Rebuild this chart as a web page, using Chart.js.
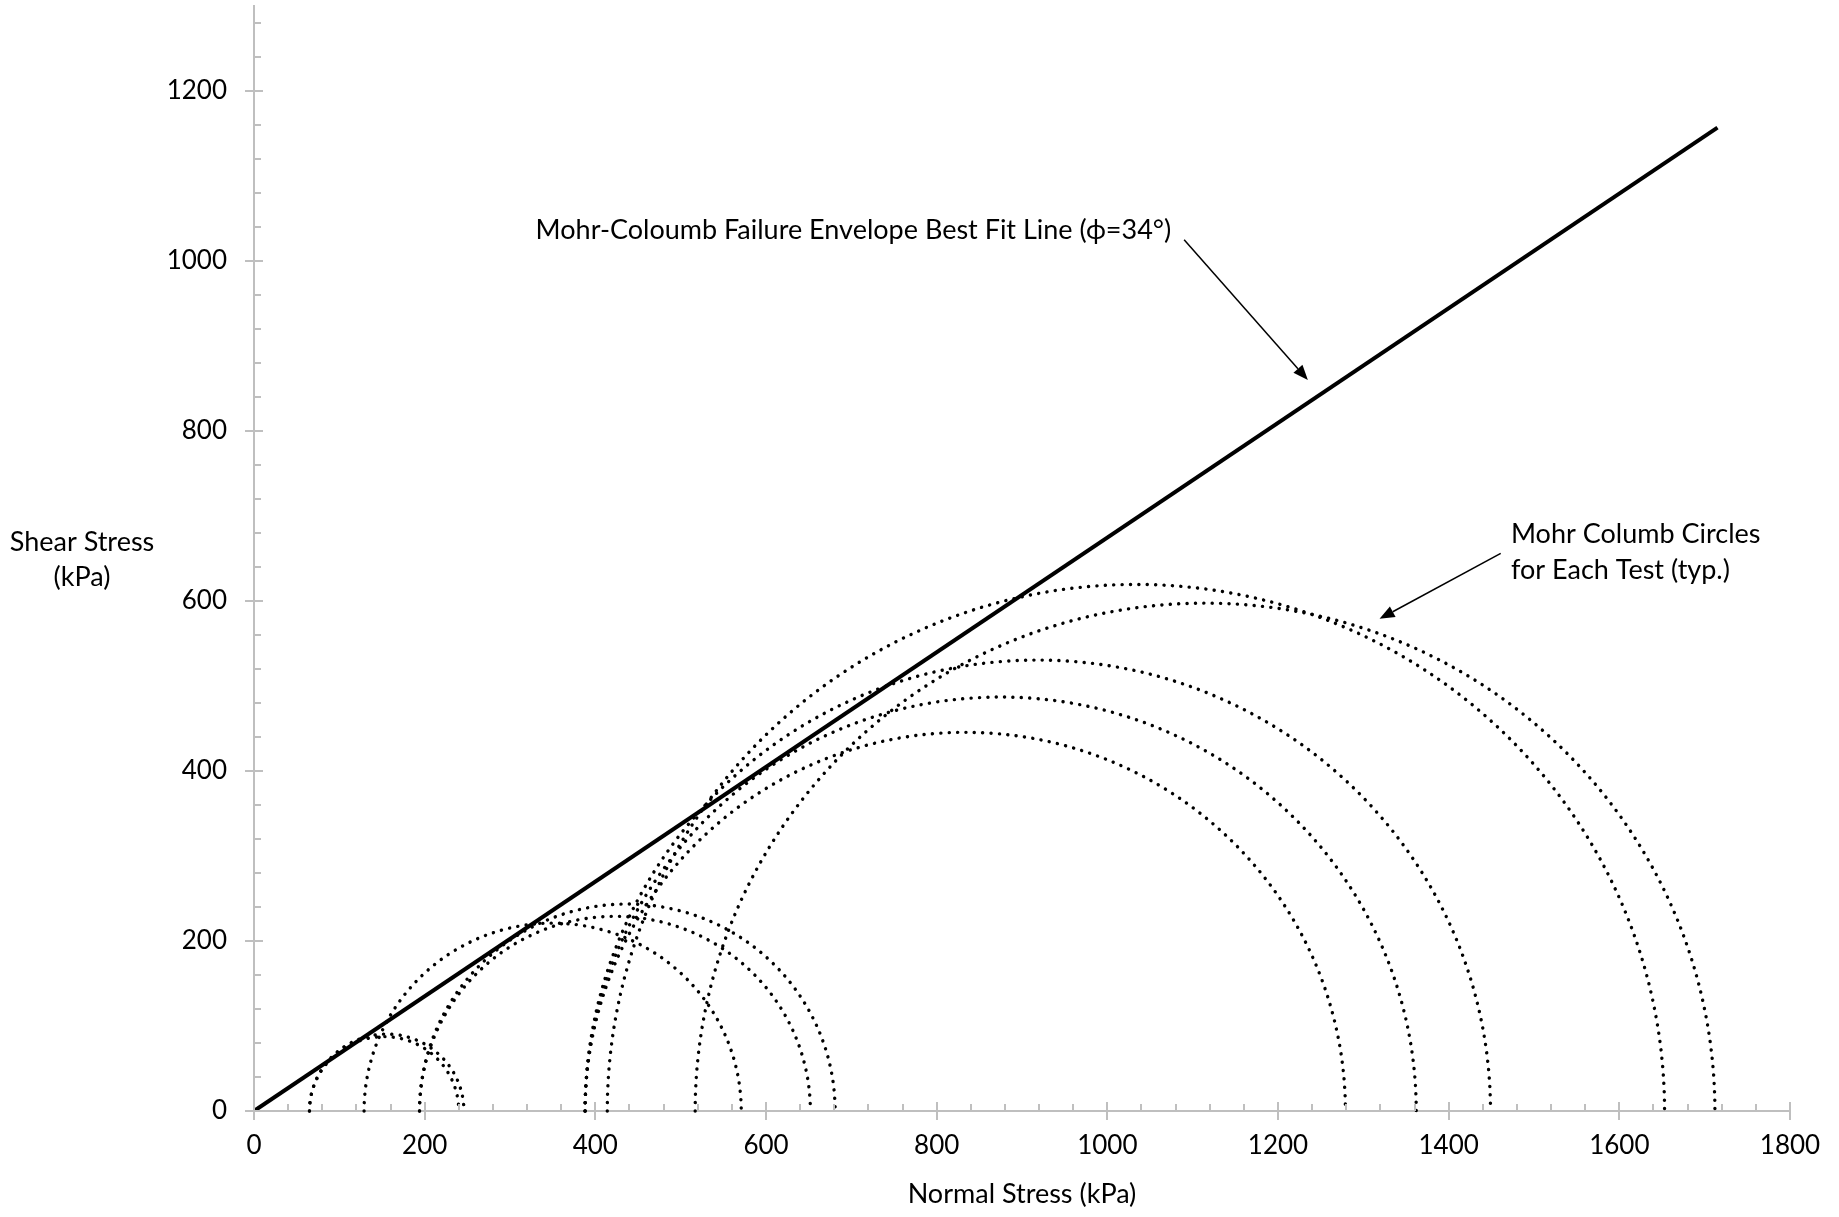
<!DOCTYPE html>
<html>
<head>
<meta charset="utf-8">
<title>Mohr-Coulomb circles</title>
<script src="https://cdn.jsdelivr.net/npm/chart.js@4.4.1/dist/chart.umd.min.js"></script>
<style>
  html, body { margin: 0; padding: 0; background: #fff; }
  canvas { display: block; }
</style>
</head>
<body>
<canvas id="mohrChart" width="1839" height="1217"></canvas>
<script>
// stresses at failure for each test, kPa
const sigma3 = [65, 65, 129, 194, 194, 388, 388, 388, 414, 517];
const sigma1 = [240, 246, 571, 652, 681, 1279, 1362, 1449, 1653, 1712];

// best fit failure envelope (phi = 34 deg)
const envelopeX = [0, 1715];
const envelopeY = [0, 1157];

const xTicks = [0, 200, 400, 600, 800, 1000, 1200, 1400, 1600, 1800];
const yTicks = [0, 200, 400, 600, 800, 1000, 1200];

const axisColor = '#bfbfbf';
const textColor = '#000';

Chart.defaults.font.family = 'Lato';

// half circles, drawn through the chart scales
const mohrCircles = {
  id: 'mohrCircles',
  beforeDatasetsDraw(chart) {
    const { ctx, scales: { x, y } } = chart;
    ctx.save();
    ctx.strokeStyle = '#000';
    ctx.lineWidth = 3.4;
    ctx.lineCap = 'round';
    ctx.setLineDash([0.1, 8.3]);
    sigma3.forEach((s3, i) => {
      const c = (sigma1[i] + s3) / 2;
      const r = (sigma1[i] - s3) / 2;
      const cx = x.getPixelForValue(c);
      const cy = y.getPixelForValue(0);
      const rx = x.getPixelForValue(c + r) - cx;
      const ry = cy - y.getPixelForValue(r);
      ctx.beginPath();
      ctx.ellipse(cx, cy, rx, ry, 0, Math.PI, 2 * Math.PI);
      ctx.stroke();
    });
    ctx.restore();
  }
};

// excel style ticks: major ones cross the axis, minor ones inside
const axisTicks = {
  id: 'axisTicks',
  afterDraw(chart) {
    const { ctx, chartArea: a, scales: { x, y } } = chart;
    ctx.save();
    ctx.strokeStyle = axisColor;
    ctx.lineWidth = 2;
    ctx.beginPath();
    for (let v = 0; v <= x.max; v += 40) {
      const px = Math.round(x.getPixelForValue(v));
      const major = v % 200 === 0;
      ctx.moveTo(px, a.bottom + (major ? 9 : 0));
      ctx.lineTo(px, a.bottom - (major ? 9 : 7));
    }
    for (let v = 0; v <= y.max; v += 40) {
      const py = Math.round(y.getPixelForValue(v));
      const major = v % 200 === 0;
      ctx.moveTo(a.left - (major ? 9 : 0), py);
      ctx.lineTo(a.left + (major ? 9 : 7), py);
    }
    ctx.stroke();
    ctx.restore();
  }
};

function arrow(ctx, x1, y1, x2, y2) {
  const ang = Math.atan2(y2 - y1, x2 - x1);
  const len = 15, half = 6;
  ctx.beginPath();
  ctx.moveTo(x1, y1);
  ctx.lineTo(x2 - Math.cos(ang) * len, y2 - Math.sin(ang) * len);
  ctx.stroke();
  ctx.beginPath();
  ctx.moveTo(x2, y2);
  ctx.lineTo(x2 - Math.cos(ang) * len - Math.sin(ang) * half, y2 - Math.sin(ang) * len + Math.cos(ang) * half);
  ctx.lineTo(x2 - Math.cos(ang) * len + Math.sin(ang) * half, y2 - Math.sin(ang) * len - Math.cos(ang) * half);
  ctx.closePath();
  ctx.fill();
}

// labels, arrows and the horizontal y axis title
const notes = {
  id: 'notes',
  afterDraw(chart) {
    const { ctx, chartArea: a, scales: { x, y } } = chart;
    ctx.save();
    ctx.fillStyle = '#000';
    ctx.strokeStyle = '#000';
    ctx.lineWidth = 1.5;
    ctx.font = '27px Lato';
    ctx.textBaseline = 'middle';
    ctx.textAlign = 'left';
    ctx.fillText('Mohr-Coloumb Failure Envelope Best Fit Line (\u03d5=34\u00b0)', x.getPixelForValue(330), y.getPixelForValue(1036));
    ctx.fillText('Mohr Columb Circles', x.getPixelForValue(1473), y.getPixelForValue(679));
    ctx.fillText('for Each Test (typ.)', x.getPixelForValue(1473), y.getPixelForValue(636));
    arrow(ctx, x.getPixelForValue(1090), y.getPixelForValue(1025), x.getPixelForValue(1235), y.getPixelForValue(860));
    arrow(ctx, x.getPixelForValue(1461), y.getPixelForValue(656), x.getPixelForValue(1319), y.getPixelForValue(579));

    const mid = (a.top + a.bottom) / 2;
    ctx.fillStyle = textColor;
    ctx.textAlign = 'center';
    ctx.fillText('Shear Stress', 82, mid - 16);
    ctx.fillText('(kPa)', 82, mid + 19);
    ctx.restore();
  }
};

const ctx = document.getElementById('mohrChart').getContext('2d');

const chart = new Chart(ctx, {
  type: 'scatter',
  data: {
    datasets: [{
      label: 'Failure envelope',
      data: envelopeX.map((v, i) => ({ x: v, y: envelopeY[i] })),
      showLine: true,
      borderColor: '#000',
      borderWidth: 4,
      pointRadius: 0,
      fill: false
    }]
  },
  options: {
    responsive: false,
    animation: false,
    devicePixelRatio: 1,
    layout: { padding: { left: 0, right: 49, top: 6, bottom: 0 } },
    plugins: {
      legend: { display: false },
      tooltip: { enabled: false }
    },
    scales: {
      x: {
        type: 'linear',
        min: 0,
        max: 1800,
        afterFit(scale) {
          scale.height = 106;
          scale.paddingLeft = 0;
          scale.paddingRight = 0;
        },
        afterBuildTicks(scale) { scale.ticks = xTicks.map(v => ({ value: v })); },
        grid: { drawOnChartArea: false, drawTicks: false },
        border: { display: true, color: axisColor, width: 2 },
        ticks: {
          color: textColor,
          font: { size: 26 },
          padding: 19,
          maxRotation: 0,
          autoSkip: false,
          callback: v => String(v)
        },
        title: {
          display: true,
          text: 'Normal Stress (kPa)',
          color: textColor,
          font: { size: 27 },
          padding: { top: 0, bottom: 7 }
        }
      },
      y: {
        type: 'linear',
        min: 0,
        max: 1300,
        afterFit(scale) {
          scale.width = 254;
          scale.paddingTop = 0;
          scale.paddingBottom = 0;
        },
        afterBuildTicks(scale) { scale.ticks = yTicks.map(v => ({ value: v })); },
        grid: { drawOnChartArea: false, drawTicks: false },
        border: { display: true, color: axisColor, width: 2 },
        ticks: {
          color: textColor,
          font: { size: 26 },
          padding: 27,
          autoSkip: false,
          callback: v => String(v)
        }
      }
    }
  },
  plugins: [mohrCircles, axisTicks, notes]
});
</script>
</body>
</html>
